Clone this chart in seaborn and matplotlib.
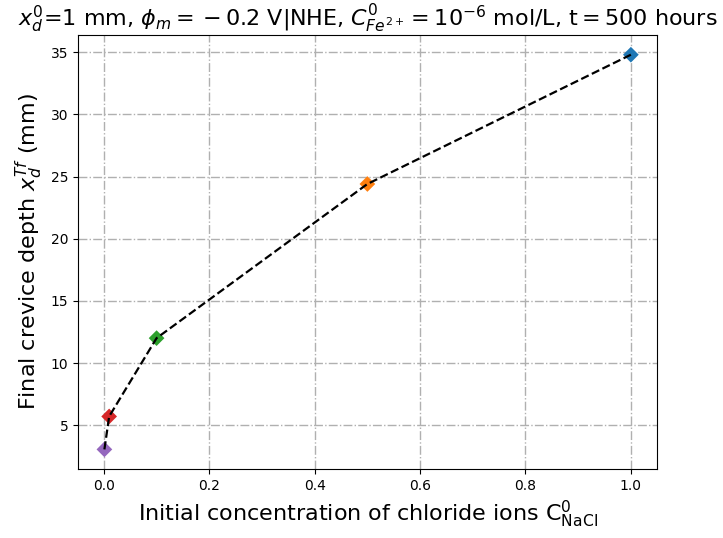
import matplotlib
matplotlib.use("Agg")
import matplotlib.pyplot as plt
import seaborn as sns
import pandas as pd

conc = [1.0, 0.5, 0.1, 0.01, 0.001]
depth = [34.8, 24.4, 12.0, 5.7, 3.05]
colors = ["#1f77b4", "#ff7f0e", "#2ca02c", "#d62728", "#9467bd"]

df = pd.DataFrame({"conc": conc, "depth": depth, "id": [str(c) for c in conc]})

fig, ax = plt.subplots(figsize=(7.23, 5.38), dpi=100)
sns.scatterplot(data=df, x="conc", y="depth", hue="id", palette=colors, marker="D",
                s=64, edgecolor="none", legend=False, ax=ax, zorder=2)
sns.lineplot(data=df.sort_values("conc"), x="conc", y="depth", color="black",
             linestyle="--", sort=True, ax=ax, zorder=3, linewidth=1.6)
ax.grid(True, linestyle="-.", color="#b0b0b0", linewidth=1.0)
ax.set_axisbelow(True)
ax.set_yticks([5, 10, 15, 20, 25, 30, 35])
ax.set_xlabel(r"Initial concentration of chloride ions C$^0_{\mathrm{NaCl}}$", fontsize=16)
ax.set_ylabel(r"Final crevice depth $x_d^{Tf}$ (mm)", fontsize=16)
ax.set_title(r"$x_d^0$=1 mm, $\phi_m = {} - 0.2$ V|NHE, $C^0_{Fe^{2+}} = 10^{-6}$ mol/L, t$ = 500$ hours",
             fontsize=16)
fig.subplots_adjust(left=0.108, right=0.909, top=0.935, bottom=0.128)
fig.savefig("out.png", dpi=100)
